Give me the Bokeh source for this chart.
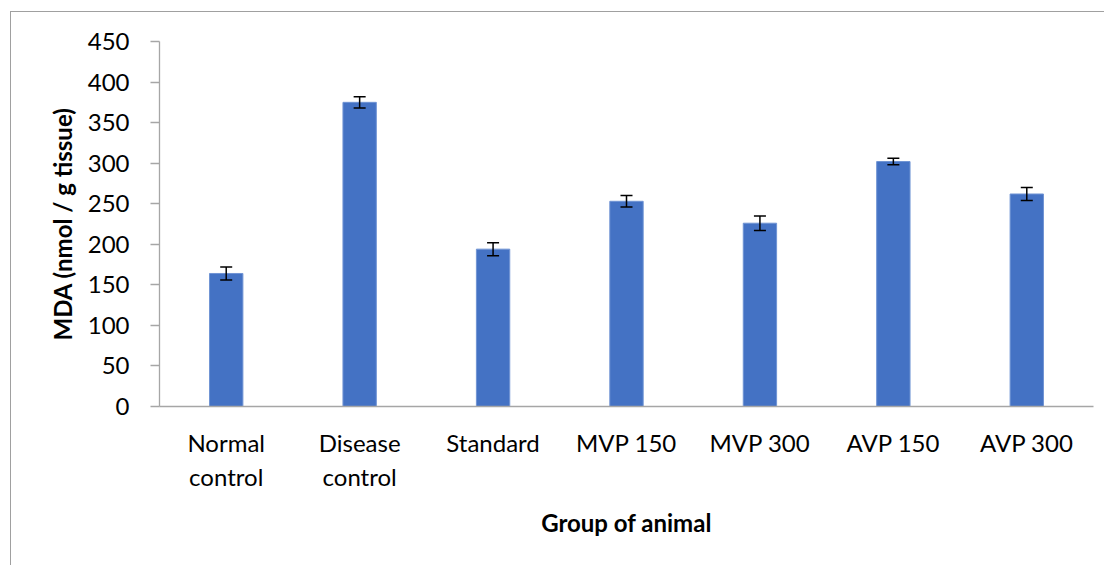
from bokeh.plotting import figure
from bokeh.models import ColumnDataSource, Whisker, Range1d, FactorRange, SingleIntervalTicker
from bokeh.embed import file_html
from bokeh.resources import INLINE

groups = ["Normal\ncontrol", "Disease\ncontrol", "Standard", "MVP 150", "MVP 300", "AVP 150", "AVP 300"]
mda = [164, 375, 194, 253, 226, 302, 262]
err = [8, 7, 8, 7, 9, 4, 8]
y_ticks_interval = 50

src = ColumnDataSource(dict(
    group=groups,
    mda=mda,
    upper=[m + e for m, e in zip(mda, err)],
    lower=[m - e for m, e in zip(mda, err)],
))

FONT = "Lato"
AXIS_COL = "#a6a6a6"

p = figure(x_range=FactorRange(*groups, range_padding=0), y_range=Range1d(0, 450),
           width=1094, height=554, output_backend="svg", toolbar_location=None,
           min_border_left=148, min_border_right=12, min_border_top=29, min_border_bottom=160,
           margin=(11, 0, 0, 10),
           styles={"border-left": "1px solid #a0a0a0", "border-top": "1px solid #a0a0a0"})

p.vbar(x="group", top="mda", width=0.25, source=src, fill_color="#4472C4",
       line_color="#7094D4", line_width=1)

w = Whisker(base="group", upper="upper", lower="lower", source=src,
            line_color="black", line_width=1.5, level="overlay")
for h in (w.upper_head, w.lower_head):
    h.size = 12
    h.line_width = 1.5
    h.line_color = "black"
p.add_layout(w)

p.xgrid.visible = False
p.ygrid.visible = False
p.outline_line_color = None
p.background_fill_color = "white"
p.border_fill_color = "white"

ya = p.yaxis[0]
ya.ticker = SingleIntervalTicker(interval=y_ticks_interval, num_minor_ticks=0)
ya.minor_tick_line_color = None
ya.major_tick_out = 9
ya.major_tick_in = 0
ya.major_tick_line_color = AXIS_COL
ya.major_tick_line_width = 1.3
ya.axis_line_color = AXIS_COL
ya.axis_line_width = 1.3
ya.major_label_text_font = FONT
ya.major_label_text_font_size = "24px"
ya.major_label_text_color = "black"
ya.major_label_standoff = 21
ya.axis_label = "MDA (nmol / g tissue)"
ya.axis_label_text_font = FONT
ya.axis_label_text_font_style = "bold"
ya.axis_label_text_font_size = "24px"
ya.axis_label_text_color = "black"
ya.axis_label_standoff = 8

xa = p.xaxis[0]
xa.major_tick_line_color = None
xa.major_tick_out = 0
xa.major_tick_in = 0
xa.axis_line_color = AXIS_COL
xa.axis_line_width = 1.3
xa.major_label_text_font = FONT
xa.major_label_text_font_size = "24px"
xa.major_label_text_color = "black"
xa.major_label_standoff = 21
xa.major_label_text_line_height = 1.2
xa.axis_label = "Group of animal"
xa.axis_label_text_font = FONT
xa.axis_label_text_font_style = "bold"
xa.axis_label_text_font_size = "24px"
xa.axis_label_text_color = "black"
xa.axis_label_standoff = 14

open("out.html", "w").write(file_html(p, INLINE))
